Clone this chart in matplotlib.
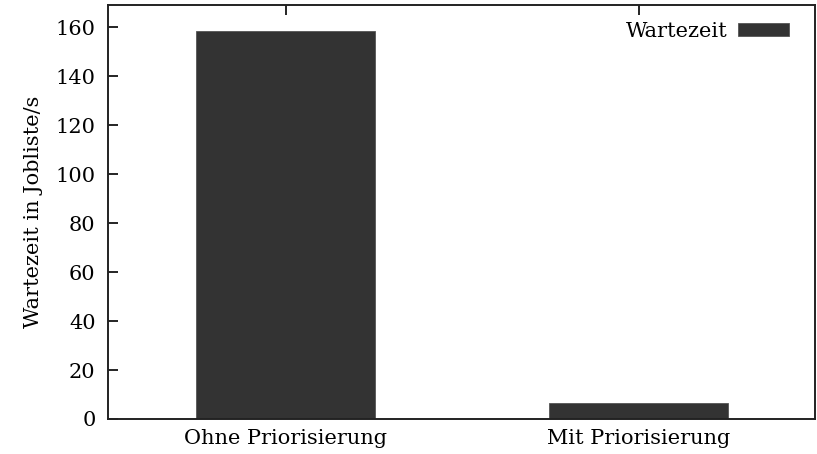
import matplotlib
matplotlib.use("Agg")
import matplotlib.pyplot as plt
import numpy as np

# data
categories = ["Ohne Priorisierung", "Mit Priorisierung"]
wartezeit = [158.5, 6.5]
yticks = [0, 20, 40, 60, 80, 100, 120, 140, 160]

plt.rcParams['font.family'] = ['DejaVu Serif']
fs = 15

fig = plt.figure(figsize=(8.17, 4.54), dpi=100)
ax = fig.add_axes([108/817, 35/454, 707/817, 414/454])

x = np.arange(len(categories))
ax.bar(x, wartezeit, width=0.507, color='#333333', edgecolor='#555555',
       linewidth=0.6, label='Wartezeit')

ax.set_xlim(-0.503, 1.5)
ax.set_ylim(0, 169)
ax.set_yticks(yticks)
ax.set_xticks(x)
ax.set_xticklabels(categories)
ax.tick_params(axis='y', direction='in', length=7, width=1.2, right=False,
               labelsize=fs, pad=9)
ax.tick_params(axis='x', direction='in', length=7, width=1.2, top=True,
               bottom=False, labelsize=fs, pad=7)
for s in ax.spines.values():
    s.set_linewidth(1.4)
    s.set_color('#222222')

ax.set_ylabel("Wartezeit in Jobliste/s", fontsize=fs, labelpad=9)

leg = ax.legend(loc='upper right', bbox_to_anchor=(0.975, 0.98),
                frameon=False, markerfirst=False, fontsize=fs,
                handlelength=2.45, handleheight=0.58,
                borderaxespad=0, handletextpad=0.5)

fig.savefig("out.png", dpi=100)
